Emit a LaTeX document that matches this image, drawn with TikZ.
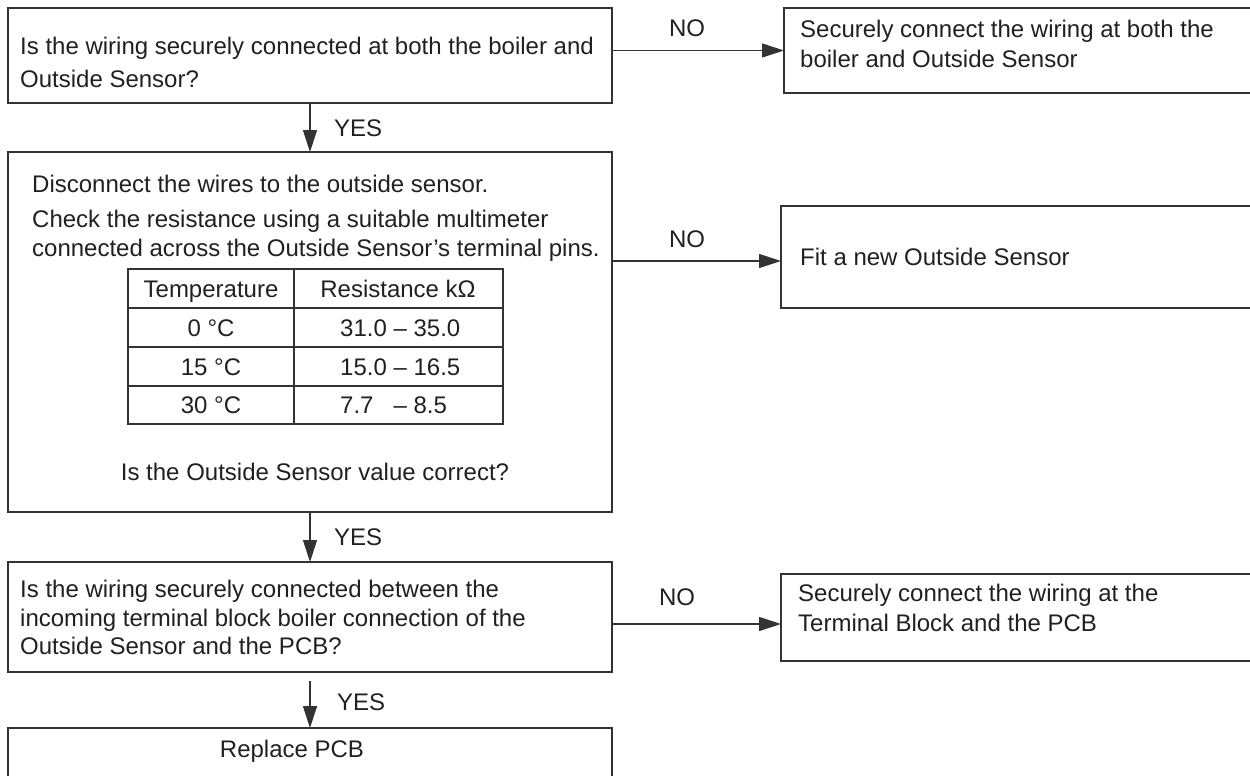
\documentclass[tikz,border=0pt]{standalone}
\usepackage{fontspec}
\setmainfont{Liberation Sans}
\usetikzlibrary{arrows.meta}
\definecolor{ink}{HTML}{231F20}
\definecolor{rule}{HTML}{333333}
\begin{document}
\begin{tikzpicture}[x=1pt,y=-1pt,
  every node/.style={font=\fontsize{24}{29}\selectfont, text=ink},
  box/.style={draw=rule, line width=1.2pt, rectangle, inner sep=0pt, outer sep=0pt, anchor=north west},
  txt/.style={anchor=base west, inner sep=0pt},
  lbl/.style={anchor=base, inner sep=0pt},
  flow/.style={draw=rule, line width=1.1pt, -{Triangle[length=22pt,width=14pt]}},
  grid/.style={draw=rule, line width=1.2pt}]
\useasboundingbox (0,0) rectangle (1250,776);
\clip (0,0) rectangle (1250,776);

% boxes
\node[box, minimum width=604pt, minimum height=95pt]  (A)  at (8,8) {};
\node[box, minimum width=480pt, minimum height=85pt]  (R1) at (784,8) {};
\node[box, minimum width=604pt, minimum height=360pt] (B)  at (8,152) {};
\node[box, minimum width=480pt, minimum height=102pt] (R2) at (781,206) {};
\node[box, minimum width=604pt, minimum height=110pt] (C)  at (8,562) {};
\node[box, minimum width=480pt, minimum height=87pt]  (R3) at (781,574) {};
\node[box, minimum width=604pt, minimum height=80pt]  (D)  at (8,728) {};

% texts in boxes
\node[txt] (a1) at (20,55) {Is the wiring securely connected at both the boiler and};
\node[txt] (a2) at (20,87) {Outside Sensor?};
\node[txt] (r1a) at (800,38) {Securely connect the wiring at both the};
\node[txt] (r1b) at (800,67) {boiler and Outside Sensor};

\node[txt] (b1) at (32,192) {Disconnect the wires to the outside sensor.};
\node[txt] (b2) at (32,227) {Check the resistance using a suitable multimeter};
\node[txt] (b3) at (32,256) {connected across the Outside Sensor’s terminal pins.};
\node[lbl] (b4) at (315,480) {Is the Outside Sensor value correct?};

\node[txt] (r2a) at (800,265) {Fit a new Outside Sensor};

\node[txt] (c1) at (20,597) {Is the wiring securely connected between the};
\node[txt] (c2) at (20,626) {incoming terminal block boiler connection of the};
\node[txt] (c3) at (20,654) {Outside Sensor and the PCB?};
\node[txt] (r3a) at (798,601) {Securely connect the wiring at the};
\node[txt] (r3b) at (798,631) {Terminal Block and the PCB};

\node[lbl] (d1) at (292,757) {Replace PCB};

% table
\draw[grid] (128,269) rectangle (503,424);
\draw[grid] (294,269) -- (294,424);
\draw[grid] (128,308) -- (503,308);
\draw[grid] (128,347) -- (503,347);
\draw[grid] (128,386) -- (503,386);
\node[lbl] (th1) at (211,297) {Temperature};
\node[lbl] (th2) at (398,297) {Resistance kΩ};
\node[lbl] (t1) at (211,336) {0 °C};
\node[lbl] (t2) at (211,375) {15 °C};
\node[lbl] (t3) at (211,413) {30 °C};
\node[txt] (v1) at (340,336) {31.0 – 35.0};
\node[txt] (v2) at (340,375) {15.0 – 16.5};
\node[txt] (v3) at (340,413) {7.7\phantom{0} – 8.5};

% connectors
\coordinate (r2in) at ([yshift=-4pt]R2.west);
\coordinate (r3in) at ([yshift=-6.5pt]R3.west);
\coordinate (cout) at ([yshift=-9pt]C.south);
\draw[flow] (A.south) -- (B.north);
\draw[flow] (A.east |- R1.west) -- (R1.west);
\draw[flow] (B.east |- r2in) -- (r2in);
\draw[flow] (B.south) -- (C.north);
\draw[flow] (C.east |- r3in) -- (r3in);
\draw[flow] (cout) -- (D.north);

% labels
\node[lbl] (no1) at (687,37) {NO};
\node[lbl] (no2) at (687,247) {NO};
\node[lbl] (no3) at (677,605) {NO};
\node[txt] (yes1) at (334,136) {YES};
\node[txt] (yes2) at (334,545) {YES};
\node[txt] (yes3) at (337,710) {YES};
\end{tikzpicture}
\end{document}
